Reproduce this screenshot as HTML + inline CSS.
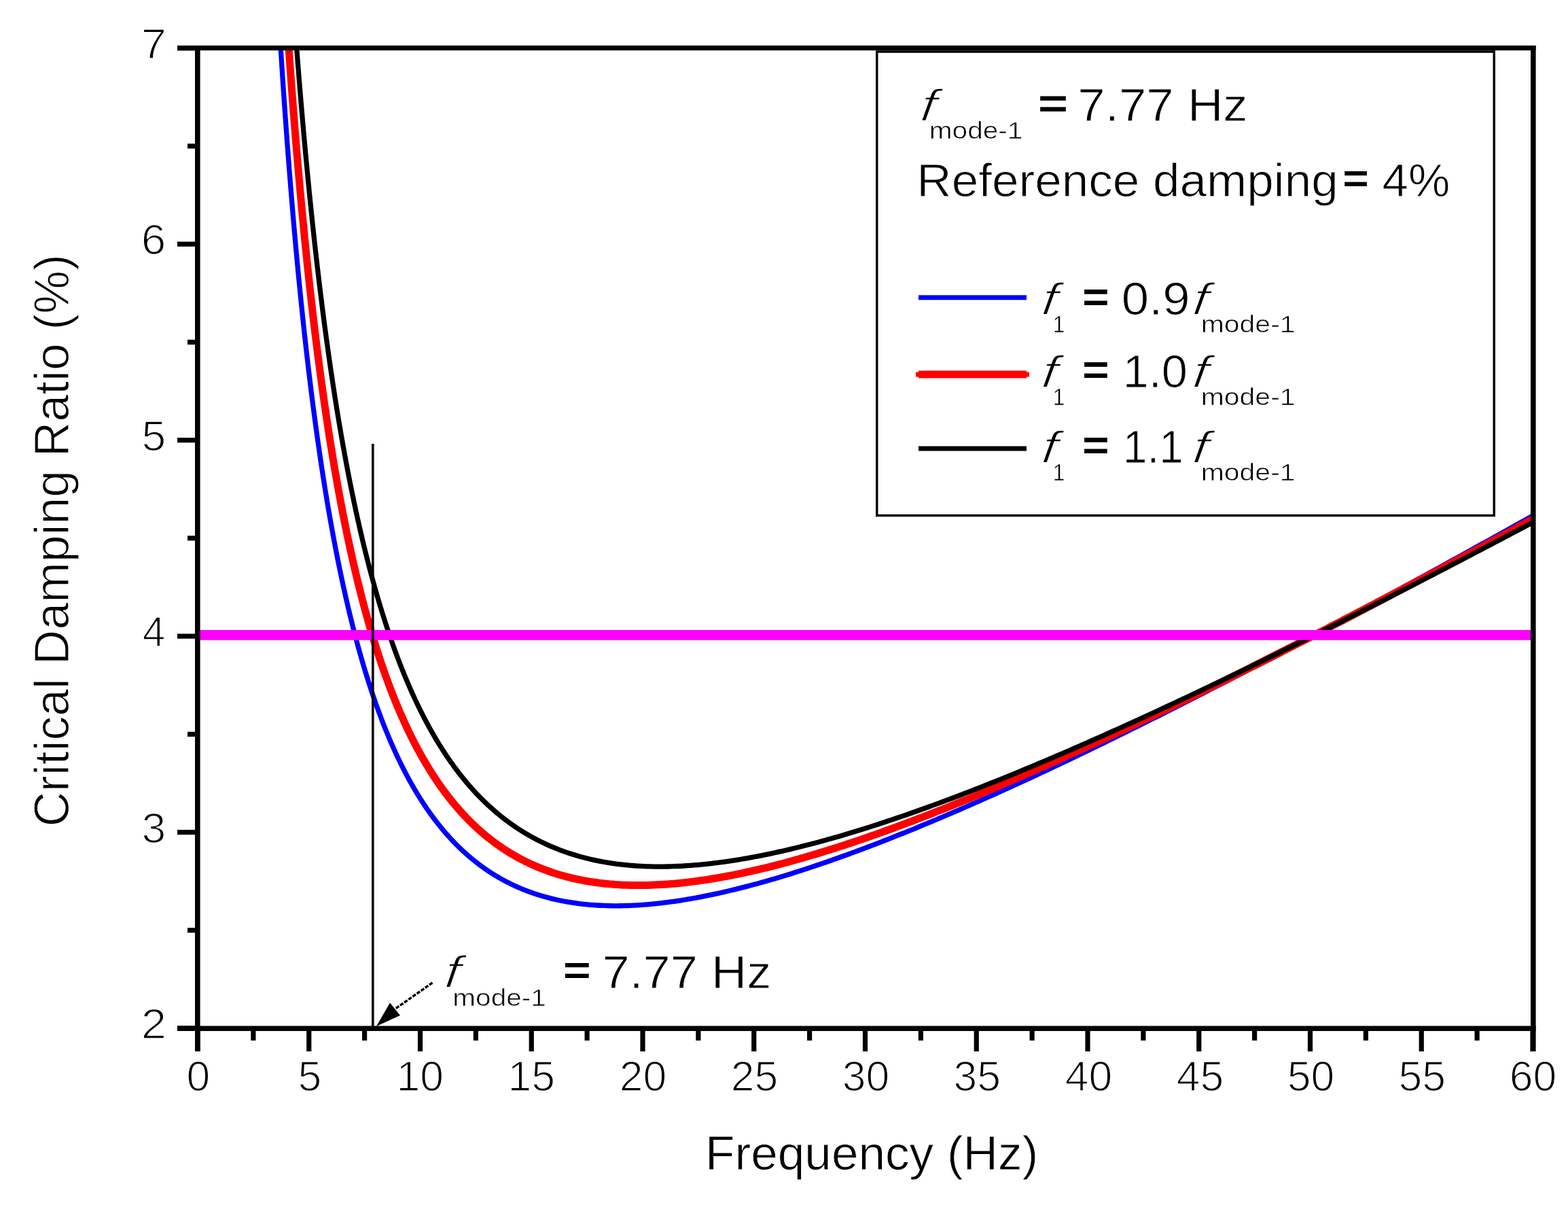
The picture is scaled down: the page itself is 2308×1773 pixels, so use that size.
<!DOCTYPE html>
<html><head><meta charset="utf-8"><title>Critical Damping Ratio</title>
<style>html,body{margin:0;padding:0;background:#fff;}body{width:2308px;height:1773px;overflow:hidden;}svg{display:block;}text{font-family:"Liberation Sans",Arial,sans-serif;}</style>
</head><body>
<svg width="2308" height="1773" viewBox="0 0 2308 1773" font-family="Liberation Sans, Arial, sans-serif">
<rect width="2308" height="1773" fill="#fff"/>
<defs><clipPath id="pc"><rect x="291" y="70.75" width="1966" height="1442.25"/></clipPath></defs>
<g clip-path="url(#pc)" fill="none" stroke-linejoin="round">
<path d="M413.16,70.75 L414.09,85.28 L415.02,99.58 L415.96,113.65 L416.89,127.50 L417.82,141.13 L418.75,154.55 L419.69,167.76 L420.62,180.77 L421.55,193.58 L422.48,206.19 L423.42,218.62 L424.35,230.86 L425.28,242.91 L426.21,254.79 L427.15,266.50 L428.08,278.03 L429.01,289.40 L429.94,300.60 L430.88,311.64 L431.81,322.52 L432.74,333.25 L433.67,343.83 L434.61,354.27 L435.54,364.55 L436.47,374.70 L437.40,384.70 L438.34,394.57 L439.27,404.30 L440.20,413.91 L441.14,423.38 L442.07,432.73 L443.00,441.95 L443.93,451.05 L444.87,460.03 L445.80,468.89 L446.73,477.64 L447.66,486.28 L448.60,494.80 L449.53,503.22 L450.46,511.52 L451.39,519.73 L452.33,527.82 L453.26,535.82 L454.19,543.72 L455.12,551.52 L456.06,559.22 L456.99,566.83 L457.92,574.35 L458.85,581.77 L459.79,589.10 L460.72,596.35 L461.65,603.51 L462.58,610.58 L463.52,617.57 L464.45,624.47 L465.38,631.30 L466.31,638.04 L467.25,644.71 L468.18,651.29 L469.11,657.81 L470.04,664.24 L470.98,670.60 L471.91,676.89 L472.84,683.11 L473.77,689.26 L474.71,695.34 L475.64,701.35 L476.57,707.29 L477.51,713.17 L478.44,718.98 L479.37,724.73 L480.30,730.41 L481.24,736.03 L482.17,741.59 L483.10,747.09 L484.03,752.53 L484.97,757.91 L485.90,763.23 L486.83,768.50 L487.76,773.71 L488.70,778.86 L489.63,783.96 L490.56,789.01 L491.49,794.00 L492.43,798.94 L493.36,803.83 L494.29,808.67 L495.22,813.45 L496.16,818.19 L497.09,822.88 L498.02,827.52 L498.95,832.12 L499.89,836.66 L500.82,841.16 L501.75,845.62 L502.68,850.03 L503.62,854.39 L504.55,858.72 L505.48,862.99 L506.41,867.23 L507.35,871.42 L508.28,875.58 L509.21,879.69 L510.14,883.76 L511.08,887.79 L512.01,891.78 L512.94,895.73 L513.87,899.65 L514.81,903.53 L515.74,907.36 L516.67,911.17 L517.61,914.93 L518.54,918.66 L519.47,922.36 L520.40,926.01 L521.34,929.64 L522.27,933.23 L523.20,936.78 L524.13,940.30 L525.07,943.79 L526.00,947.25 L526.93,950.67 L527.86,954.07 L528.80,957.43 L529.73,960.76 L530.66,964.06 L531.59,967.32 L532.53,970.56 L533.46,973.77 L534.39,976.95 L535.32,980.10 L536.26,983.22 L537.19,986.31 L538.12,989.38 L539.05,992.42 L539.99,995.43 L540.92,998.41 L541.85,1001.37 L542.78,1004.29 L543.72,1007.20 L544.65,1010.08 L545.58,1012.93 L546.51,1015.75 L547.45,1018.56 L548.38,1021.33 L549.31,1024.08 L550.24,1026.81 L551.18,1029.52 L552.11,1032.20 L553.04,1034.85 L553.97,1037.49 L554.91,1040.10 L555.84,1042.69 L556.77,1045.25 L557.71,1047.80 L558.64,1050.32 L559.57,1052.82 L560.50,1055.29 L561.44,1057.75 L562.37,1060.19 L563.30,1062.60 L564.23,1065.00 L565.17,1067.37 L566.10,1069.72 L567.03,1072.06 L567.96,1074.37 L568.90,1076.66 L569.83,1078.94 L570.76,1081.20 L571.69,1083.43 L572.63,1085.65 L573.56,1087.85 L574.49,1090.03 L575.42,1092.19 L576.36,1094.34 L577.29,1096.46 L578.22,1098.57 L579.15,1100.66 L580.09,1102.73 L581.02,1104.79 L581.95,1106.83 L582.88,1108.85 L583.82,1110.86 L584.75,1112.85 L585.68,1114.82 L586.61,1116.78 L587.55,1118.72 L588.48,1120.64 L589.41,1122.55 L590.34,1124.44 L591.28,1126.32 L592.21,1128.18 L593.14,1130.03 L594.08,1131.86 L595.01,1133.68 L595.94,1135.48 L596.87,1137.27 L597.81,1139.04 L598.74,1140.80 L599.67,1142.54 L600.60,1144.27 L601.54,1145.99 L602.47,1147.69 L603.40,1149.38 L604.33,1151.06 L605.27,1152.72 L606.20,1154.37 L607.13,1156.00 L608.06,1157.62 L609.00,1159.23 L609.93,1160.83 L610.86,1162.41 L611.79,1163.98 L612.73,1165.54 L613.66,1167.09 L614.59,1168.62 L615.52,1170.14 L616.46,1171.65 L617.39,1173.14 L618.32,1174.63 L619.25,1176.10 L620.19,1177.56 L621.12,1179.01 L622.05,1180.45 L622.98,1181.88 L623.92,1183.29 L624.85,1184.70 L625.78,1186.09 L626.71,1187.47 L627.65,1188.84 L628.58,1190.20 L629.51,1191.55 L630.44,1192.89 L631.38,1194.22 L632.31,1195.54 L633.24,1196.84 L634.18,1198.14 L635.11,1199.43 L636.04,1200.70 L636.97,1201.97 L637.91,1203.23 L638.84,1204.47 L639.77,1205.71 L640.70,1206.94 L641.64,1208.16 L642.57,1209.36 L643.50,1210.56 L644.43,1211.75 L645.37,1212.93 L646.30,1214.10 L647.23,1215.26 L648.16,1216.41 L649.10,1217.55 L650.03,1218.69 L650.96,1219.81 L651.89,1220.93 L652.83,1222.03 L653.76,1223.13 L654.69,1224.22 L655.62,1225.30 L656.56,1226.38 L657.49,1227.44 L658.42,1228.50 L659.35,1229.54 L660.29,1230.58 L661.22,1231.61 L662.15,1232.63 L663.08,1233.65 L664.02,1234.66 L664.95,1235.65 L665.88,1236.65 L666.81,1237.63 L667.75,1238.60 L668.68,1239.57 L669.61,1240.53 L670.55,1241.48 L671.48,1242.43 L672.41,1243.36 L673.34,1244.29 L674.28,1245.22 L675.21,1246.13 L676.14,1247.04 L677.07,1247.94 L678.01,1248.83 L678.94,1249.72 L679.87,1250.60 L680.80,1251.47 L681.74,1252.33 L682.67,1253.19 L683.60,1254.04 L684.53,1254.89 L685.47,1255.72 L686.40,1256.56 L687.33,1257.38 L688.26,1258.20 L689.20,1259.01 L690.13,1259.81 L691.06,1260.61 L691.99,1261.40 L692.93,1262.19 L693.86,1262.97 L694.79,1263.74 L695.72,1264.51 L696.66,1265.27 L697.59,1266.02 L698.52,1266.77 L699.45,1267.51 L700.39,1268.24 L701.32,1268.97 L702.25,1269.70 L703.18,1270.42 L704.12,1271.13 L705.05,1271.83 L705.98,1272.53 L706.91,1273.23 L707.85,1273.92 L708.78,1274.60 L709.71,1275.28 L710.65,1275.95 L711.58,1276.61 L712.51,1277.27 L713.44,1277.93 L714.38,1278.58 L715.31,1279.22 L716.24,1279.86 L717.17,1280.50 L718.11,1281.12 L719.04,1281.75 L719.97,1282.36 L720.90,1282.98 L721.84,1283.58 L722.77,1284.19 L723.70,1284.78 L724.63,1285.37 L725.57,1285.96 L726.50,1286.54 L727.43,1287.12 L728.36,1287.69 L729.30,1288.26 L730.23,1288.82 L731.16,1289.38 L732.09,1289.93 L733.03,1290.48 L733.96,1291.02 L734.89,1291.56 L735.82,1292.09 L736.76,1292.62 L737.69,1293.14 L738.62,1293.66 L739.55,1294.18 L740.49,1294.69 L741.42,1295.20 L742.35,1295.70 L743.28,1296.19 L744.22,1296.69 L745.15,1297.17 L746.08,1297.66 L747.02,1298.14 L747.95,1298.61 L748.88,1299.08 L749.81,1299.55 L750.75,1300.01 L751.68,1300.47 L752.61,1300.92 L753.54,1301.37 L754.48,1301.82 L755.41,1302.26 L756.34,1302.69 L757.27,1303.13 L758.21,1303.55 L759.14,1303.98 L760.07,1304.40 L761.00,1304.82 L761.94,1305.23 L762.87,1305.64 L763.80,1306.04 L764.73,1306.44 L765.67,1306.84 L766.60,1307.24 L767.53,1307.62 L768.46,1308.01 L769.40,1308.39 L770.33,1308.77 L771.26,1309.15 L772.19,1309.52 L773.13,1309.88 L774.06,1310.25 L774.99,1310.61 L775.92,1310.96 L776.86,1311.32 L777.79,1311.66 L778.72,1312.01 L779.65,1312.35 L780.59,1312.69 L781.52,1313.02 L782.45,1313.36 L783.38,1313.68 L784.32,1314.01 L785.25,1314.33 L790.18,1315.97 L795.11,1317.52 L800.04,1318.98 L804.97,1320.35 L809.89,1321.64 L814.82,1322.84 L819.75,1323.97 L824.68,1325.02 L829.61,1325.99 L834.54,1326.89 L839.47,1327.72 L844.40,1328.48 L849.33,1329.17 L854.26,1329.80 L859.18,1330.36 L864.11,1330.86 L869.04,1331.30 L873.97,1331.68 L878.90,1332.00 L883.83,1332.26 L888.76,1332.47 L893.69,1332.63 L898.62,1332.73 L903.54,1332.79 L908.47,1332.79 L913.40,1332.75 L918.33,1332.65 L923.26,1332.52 L928.19,1332.33 L933.12,1332.10 L938.05,1331.83 L942.98,1331.52 L947.90,1331.17 L952.83,1330.77 L957.76,1330.34 L962.69,1329.87 L967.62,1329.36 L972.55,1328.81 L977.48,1328.23 L982.41,1327.61 L987.34,1326.95 L992.27,1326.27 L997.19,1325.55 L1002.12,1324.80 L1007.05,1324.01 L1011.98,1323.20 L1016.91,1322.35 L1021.84,1321.48 L1026.77,1320.57 L1031.70,1319.64 L1036.63,1318.68 L1041.55,1317.69 L1046.48,1316.67 L1051.41,1315.63 L1056.34,1314.56 L1061.27,1313.47 L1066.20,1312.35 L1071.13,1311.21 L1076.06,1310.04 L1080.99,1308.85 L1085.91,1307.64 L1090.84,1306.40 L1095.77,1305.14 L1100.70,1303.86 L1105.63,1302.56 L1110.56,1301.24 L1115.49,1299.90 L1120.42,1298.53 L1125.35,1297.15 L1130.28,1295.74 L1135.20,1294.32 L1140.13,1292.88 L1145.06,1291.42 L1149.99,1289.94 L1154.92,1288.45 L1159.85,1286.93 L1164.78,1285.40 L1169.71,1283.85 L1174.64,1282.29 L1179.56,1280.71 L1184.49,1279.11 L1189.42,1277.49 L1194.35,1275.86 L1199.28,1274.22 L1204.21,1272.56 L1209.14,1270.88 L1214.07,1269.19 L1219.00,1267.49 L1223.92,1265.77 L1228.85,1264.04 L1233.78,1262.29 L1238.71,1260.53 L1243.64,1258.76 L1248.57,1256.97 L1253.50,1255.17 L1258.43,1253.36 L1263.36,1251.54 L1268.29,1249.70 L1273.21,1247.85 L1278.14,1245.99 L1283.07,1244.12 L1288.00,1242.23 L1292.93,1240.34 L1297.86,1238.43 L1302.79,1236.51 L1307.72,1234.58 L1312.65,1232.64 L1317.57,1230.69 L1322.50,1228.73 L1327.43,1226.76 L1332.36,1224.77 L1337.29,1222.78 L1342.22,1220.78 L1347.15,1218.77 L1352.08,1216.75 L1357.01,1214.72 L1361.93,1212.68 L1366.86,1210.63 L1371.79,1208.57 L1376.72,1206.50 L1381.65,1204.42 L1386.58,1202.34 L1391.51,1200.24 L1396.44,1198.14 L1401.37,1196.03 L1406.30,1193.91 L1411.22,1191.78 L1416.15,1189.65 L1421.08,1187.51 L1426.01,1185.35 L1430.94,1183.19 L1435.87,1181.03 L1440.80,1178.85 L1445.73,1176.67 L1450.66,1174.48 L1455.58,1172.29 L1460.51,1170.08 L1465.44,1167.87 L1470.37,1165.65 L1475.30,1163.43 L1480.23,1161.20 L1485.16,1158.96 L1490.09,1156.72 L1495.02,1154.46 L1499.94,1152.21 L1504.87,1149.94 L1509.80,1147.67 L1514.73,1145.39 L1519.66,1143.11 L1524.59,1140.82 L1529.52,1138.53 L1534.45,1136.23 L1539.38,1133.92 L1544.31,1131.61 L1549.23,1129.29 L1554.16,1126.96 L1559.09,1124.63 L1564.02,1122.30 L1568.95,1119.95 L1573.88,1117.61 L1578.81,1115.26 L1583.74,1112.90 L1588.67,1110.54 L1593.59,1108.17 L1598.52,1105.80 L1603.45,1103.42 L1608.38,1101.03 L1613.31,1098.65 L1618.24,1096.25 L1623.17,1093.86 L1628.10,1091.45 L1633.03,1089.05 L1637.95,1086.63 L1642.88,1084.22 L1647.81,1081.80 L1652.74,1079.37 L1657.67,1076.94 L1662.60,1074.51 L1667.53,1072.07 L1672.46,1069.62 L1677.39,1067.18 L1682.32,1064.72 L1687.24,1062.27 L1692.17,1059.81 L1697.10,1057.34 L1702.03,1054.88 L1706.96,1052.40 L1711.89,1049.93 L1716.82,1047.45 L1721.75,1044.96 L1726.68,1042.47 L1731.60,1039.98 L1736.53,1037.49 L1741.46,1034.99 L1746.39,1032.48 L1751.32,1029.98 L1756.25,1027.47 L1761.18,1024.95 L1766.11,1022.43 L1771.04,1019.91 L1775.96,1017.39 L1780.89,1014.86 L1785.82,1012.33 L1790.75,1009.79 L1795.68,1007.25 L1800.61,1004.71 L1805.54,1002.17 L1810.47,999.62 L1815.40,997.07 L1820.33,994.51 L1825.25,991.95 L1830.18,989.39 L1835.11,986.83 L1840.04,984.26 L1844.97,981.69 L1849.90,979.12 L1854.83,976.54 L1859.76,973.96 L1864.69,971.38 L1869.61,968.79 L1874.54,966.21 L1879.47,963.62 L1884.40,961.02 L1889.33,958.43 L1894.26,955.83 L1899.19,953.22 L1904.12,950.62 L1909.05,948.01 L1913.97,945.40 L1918.90,942.79 L1923.83,940.17 L1928.76,937.56 L1933.69,934.93 L1938.62,932.31 L1943.55,929.69 L1948.48,927.06 L1953.41,924.43 L1958.34,921.79 L1963.26,919.16 L1968.19,916.52 L1973.12,913.88 L1978.05,911.24 L1982.98,908.59 L1987.91,905.94 L1992.84,903.30 L1997.77,900.64 L2002.70,897.99 L2007.62,895.33 L2012.55,892.67 L2017.48,890.01 L2022.41,887.35 L2027.34,884.68 L2032.27,882.02 L2037.20,879.35 L2042.13,876.67 L2047.06,874.00 L2051.98,871.32 L2056.91,868.65 L2061.84,865.97 L2066.77,863.28 L2071.70,860.60 L2076.63,857.91 L2081.56,855.22 L2086.49,852.53 L2091.42,849.84 L2096.35,847.15 L2101.27,844.45 L2106.20,841.75 L2111.13,839.05 L2116.06,836.35 L2120.99,833.65 L2125.92,830.94 L2130.85,828.24 L2135.78,825.53 L2140.71,822.82 L2145.63,820.10 L2150.56,817.39 L2155.49,814.67 L2160.42,811.95 L2165.35,809.24 L2170.28,806.51 L2175.21,803.79 L2180.14,801.07 L2185.07,798.34 L2189.99,795.61 L2194.92,792.88 L2199.85,790.15 L2204.78,787.42 L2209.71,784.68 L2214.64,781.95 L2219.57,779.21 L2224.50,776.47 L2229.43,773.73 L2234.36,770.98 L2239.28,768.24 L2244.21,765.50 L2249.14,762.75 L2254.07,760.00 L2259.00,757.25" stroke="#0000ff" stroke-width="7.3"/>
<path d="M425.04,70.75 L425.94,83.47 L426.84,96.01 L427.75,108.37 L428.65,120.56 L429.55,132.57 L430.46,144.43 L431.36,156.12 L432.26,167.64 L433.16,179.02 L434.07,190.24 L434.97,201.30 L435.87,212.22 L436.77,223.00 L437.68,233.63 L438.58,244.13 L439.48,254.48 L440.39,264.70 L441.29,274.79 L442.19,284.75 L443.09,294.59 L444.00,304.29 L444.90,313.88 L445.80,323.34 L446.71,332.69 L447.61,341.92 L448.51,351.03 L449.41,360.04 L450.32,368.93 L451.22,377.71 L452.12,386.39 L453.03,394.96 L453.93,403.43 L454.83,411.80 L455.73,420.07 L456.64,428.24 L457.54,436.32 L458.44,444.30 L459.34,452.18 L460.25,459.98 L461.15,467.68 L462.05,475.30 L462.96,482.83 L463.86,490.27 L464.76,497.63 L465.66,504.91 L466.57,512.10 L467.47,519.21 L468.37,526.25 L469.28,533.20 L470.18,540.08 L471.08,546.88 L471.98,553.61 L472.89,560.27 L473.79,566.85 L474.69,573.36 L475.59,579.80 L476.50,586.17 L477.40,592.48 L478.30,598.71 L479.21,604.89 L480.11,610.99 L481.01,617.03 L481.91,623.01 L482.82,628.92 L483.72,634.78 L484.62,640.57 L485.53,646.30 L486.43,651.98 L487.33,657.59 L488.23,663.15 L489.14,668.65 L490.04,674.10 L490.94,679.49 L491.84,684.83 L492.75,690.11 L493.65,695.34 L494.55,700.52 L495.46,705.65 L496.36,710.73 L497.26,715.75 L498.16,720.73 L499.07,725.66 L499.97,730.54 L500.87,735.38 L501.78,740.16 L502.68,744.90 L503.58,749.60 L504.48,754.25 L505.39,758.85 L506.29,763.41 L507.19,767.93 L508.09,772.41 L509.00,776.84 L509.90,781.23 L510.80,785.58 L511.71,789.89 L512.61,794.16 L513.51,798.39 L514.41,802.59 L515.32,806.74 L516.22,810.85 L517.12,814.93 L518.03,818.97 L518.93,822.97 L519.83,826.93 L520.73,830.86 L521.64,834.76 L522.54,838.62 L523.44,842.44 L524.35,846.23 L525.25,849.99 L526.15,853.71 L527.05,857.40 L527.96,861.06 L528.86,864.68 L529.76,868.28 L530.66,871.84 L531.57,875.37 L532.47,878.87 L533.37,882.33 L534.28,885.77 L535.18,889.18 L536.08,892.56 L536.98,895.91 L537.89,899.23 L538.79,902.52 L539.69,905.79 L540.60,909.02 L541.50,912.23 L542.40,915.41 L543.30,918.56 L544.21,921.69 L545.11,924.79 L546.01,927.87 L546.91,930.92 L547.82,933.94 L548.72,936.94 L549.62,939.91 L550.53,942.86 L551.43,945.78 L552.33,948.68 L553.23,951.56 L554.14,954.41 L555.04,957.23 L555.94,960.04 L556.85,962.82 L557.75,965.58 L558.65,968.32 L559.55,971.03 L560.46,973.72 L561.36,976.39 L562.26,979.04 L563.16,981.66 L564.07,984.27 L564.97,986.85 L565.87,989.42 L566.78,991.96 L567.68,994.48 L568.58,996.99 L569.48,999.47 L570.39,1001.93 L571.29,1004.37 L572.19,1006.80 L573.10,1009.20 L574.00,1011.59 L574.90,1013.95 L575.80,1016.30 L576.71,1018.63 L577.61,1020.94 L578.51,1023.23 L579.41,1025.51 L580.32,1027.76 L581.22,1030.00 L582.12,1032.22 L583.03,1034.43 L583.93,1036.62 L584.83,1038.79 L585.73,1040.94 L586.64,1043.08 L587.54,1045.20 L588.44,1047.30 L589.35,1049.39 L590.25,1051.46 L591.15,1053.51 L592.05,1055.55 L592.96,1057.58 L593.86,1059.59 L594.76,1061.58 L595.67,1063.56 L596.57,1065.52 L597.47,1067.47 L598.37,1069.40 L599.28,1071.32 L600.18,1073.22 L601.08,1075.11 L601.98,1076.99 L602.89,1078.85 L603.79,1080.70 L604.69,1082.53 L605.60,1084.35 L606.50,1086.15 L607.40,1087.95 L608.30,1089.72 L609.21,1091.49 L610.11,1093.24 L611.01,1094.98 L611.92,1096.70 L612.82,1098.42 L613.72,1100.12 L614.62,1101.81 L615.53,1103.48 L616.43,1105.14 L617.33,1106.79 L618.23,1108.43 L619.14,1110.06 L620.04,1111.67 L620.94,1113.27 L621.85,1114.86 L622.75,1116.44 L623.65,1118.00 L624.55,1119.56 L625.46,1121.10 L626.36,1122.63 L627.26,1124.16 L628.17,1125.66 L629.07,1127.16 L629.97,1128.65 L630.87,1130.13 L631.78,1131.59 L632.68,1133.05 L633.58,1134.49 L634.48,1135.93 L635.39,1137.35 L636.29,1138.76 L637.19,1140.16 L638.10,1141.56 L639.00,1142.94 L639.90,1144.31 L640.80,1145.67 L641.71,1147.02 L642.61,1148.37 L643.51,1149.70 L644.42,1151.02 L645.32,1152.33 L646.22,1153.64 L647.12,1154.93 L648.03,1156.21 L648.93,1157.49 L649.83,1158.76 L650.74,1160.01 L651.64,1161.26 L652.54,1162.50 L653.44,1163.73 L654.35,1164.95 L655.25,1166.16 L656.15,1167.36 L657.05,1168.56 L657.96,1169.74 L658.86,1170.92 L659.76,1172.09 L660.67,1173.25 L661.57,1174.40 L662.47,1175.54 L663.37,1176.68 L664.28,1177.81 L665.18,1178.92 L666.08,1180.03 L666.99,1181.14 L667.89,1182.23 L668.79,1183.32 L669.69,1184.40 L670.60,1185.47 L671.50,1186.53 L672.40,1187.59 L673.30,1188.63 L674.21,1189.67 L675.11,1190.71 L676.01,1191.73 L676.92,1192.75 L677.82,1193.76 L678.72,1194.76 L679.62,1195.76 L680.53,1196.75 L681.43,1197.73 L682.33,1198.70 L683.24,1199.67 L684.14,1200.63 L685.04,1201.58 L685.94,1202.53 L686.85,1203.47 L687.75,1204.40 L688.65,1205.33 L689.55,1206.25 L690.46,1207.16 L691.36,1208.07 L692.26,1208.96 L693.17,1209.86 L694.07,1210.74 L694.97,1211.62 L695.87,1212.50 L696.78,1213.36 L697.68,1214.22 L698.58,1215.08 L699.49,1215.92 L700.39,1216.77 L701.29,1217.60 L702.19,1218.43 L703.10,1219.25 L704.00,1220.07 L704.90,1220.88 L705.80,1221.69 L706.71,1222.49 L707.61,1223.28 L708.51,1224.07 L709.42,1224.85 L710.32,1225.63 L711.22,1226.40 L712.12,1227.16 L713.03,1227.92 L713.93,1228.67 L714.83,1229.42 L715.74,1230.16 L716.64,1230.90 L717.54,1231.63 L718.44,1232.36 L719.35,1233.08 L720.25,1233.79 L721.15,1234.50 L722.06,1235.20 L722.96,1235.90 L723.86,1236.60 L724.76,1237.28 L725.67,1237.97 L726.57,1238.65 L727.47,1239.32 L728.37,1239.99 L729.28,1240.65 L730.18,1241.31 L731.08,1241.96 L731.99,1242.61 L732.89,1243.25 L733.79,1243.89 L734.69,1244.52 L735.60,1245.15 L736.50,1245.77 L737.40,1246.39 L738.31,1247.01 L739.21,1247.62 L740.11,1248.22 L741.01,1248.82 L741.92,1249.41 L742.82,1250.01 L743.72,1250.59 L744.62,1251.17 L745.53,1251.75 L746.43,1252.32 L747.33,1252.89 L748.24,1253.45 L749.14,1254.01 L750.04,1254.57 L750.94,1255.12 L751.85,1255.66 L752.75,1256.21 L753.65,1256.74 L754.56,1257.28 L755.46,1257.81 L756.36,1258.33 L757.26,1258.85 L758.17,1259.37 L759.07,1259.88 L759.97,1260.39 L760.87,1260.89 L761.78,1261.39 L762.68,1261.89 L763.58,1262.38 L764.49,1262.87 L765.39,1263.35 L766.29,1263.83 L767.19,1264.31 L768.10,1264.78 L769.00,1265.25 L769.90,1265.71 L770.81,1266.17 L771.71,1266.63 L772.61,1267.08 L773.51,1267.53 L774.42,1267.97 L775.32,1268.42 L776.22,1268.85 L777.12,1269.29 L778.03,1269.72 L778.93,1270.15 L779.83,1270.57 L780.74,1270.99 L781.64,1271.40 L782.54,1271.82 L783.44,1272.23 L784.35,1272.63 L785.25,1273.03 L790.18,1275.17 L795.11,1277.20 L800.04,1279.13 L804.97,1280.97 L809.89,1282.71 L814.82,1284.37 L819.75,1285.94 L824.68,1287.42 L829.61,1288.82 L834.54,1290.14 L839.47,1291.38 L844.40,1292.55 L849.33,1293.64 L854.26,1294.66 L859.18,1295.61 L864.11,1296.49 L869.04,1297.31 L873.97,1298.06 L878.90,1298.74 L883.83,1299.37 L888.76,1299.93 L893.69,1300.44 L898.62,1300.89 L903.54,1301.28 L908.47,1301.62 L913.40,1301.90 L918.33,1302.14 L923.26,1302.32 L928.19,1302.45 L933.12,1302.54 L938.05,1302.57 L942.98,1302.56 L947.90,1302.51 L952.83,1302.41 L957.76,1302.27 L962.69,1302.09 L967.62,1301.86 L972.55,1301.59 L977.48,1301.29 L982.41,1300.95 L987.34,1300.56 L992.27,1300.15 L997.19,1299.69 L1002.12,1299.20 L1007.05,1298.67 L1011.98,1298.12 L1016.91,1297.52 L1021.84,1296.90 L1026.77,1296.24 L1031.70,1295.55 L1036.63,1294.83 L1041.55,1294.08 L1046.48,1293.30 L1051.41,1292.49 L1056.34,1291.66 L1061.27,1290.79 L1066.20,1289.90 L1071.13,1288.98 L1076.06,1288.04 L1080.99,1287.07 L1085.91,1286.07 L1090.84,1285.05 L1095.77,1284.00 L1100.70,1282.93 L1105.63,1281.84 L1110.56,1280.73 L1115.49,1279.59 L1120.42,1278.43 L1125.35,1277.24 L1130.28,1276.04 L1135.20,1274.81 L1140.13,1273.57 L1145.06,1272.30 L1149.99,1271.01 L1154.92,1269.71 L1159.85,1268.38 L1164.78,1267.04 L1169.71,1265.67 L1174.64,1264.29 L1179.56,1262.89 L1184.49,1261.48 L1189.42,1260.04 L1194.35,1258.59 L1199.28,1257.12 L1204.21,1255.63 L1209.14,1254.13 L1214.07,1252.61 L1219.00,1251.08 L1223.92,1249.53 L1228.85,1247.96 L1233.78,1246.38 L1238.71,1244.79 L1243.64,1243.18 L1248.57,1241.55 L1253.50,1239.92 L1258.43,1238.26 L1263.36,1236.60 L1268.29,1234.92 L1273.21,1233.23 L1278.14,1231.52 L1283.07,1229.80 L1288.00,1228.07 L1292.93,1226.32 L1297.86,1224.57 L1302.79,1222.80 L1307.72,1221.02 L1312.65,1219.22 L1317.57,1217.42 L1322.50,1215.60 L1327.43,1213.78 L1332.36,1211.94 L1337.29,1210.09 L1342.22,1208.23 L1347.15,1206.36 L1352.08,1204.47 L1357.01,1202.58 L1361.93,1200.68 L1366.86,1198.77 L1371.79,1196.84 L1376.72,1194.91 L1381.65,1192.97 L1386.58,1191.02 L1391.51,1189.06 L1396.44,1187.09 L1401.37,1185.11 L1406.30,1183.12 L1411.22,1181.12 L1416.15,1179.11 L1421.08,1177.10 L1426.01,1175.07 L1430.94,1173.04 L1435.87,1171.00 L1440.80,1168.95 L1445.73,1166.89 L1450.66,1164.83 L1455.58,1162.75 L1460.51,1160.67 L1465.44,1158.58 L1470.37,1156.48 L1475.30,1154.38 L1480.23,1152.27 L1485.16,1150.15 L1490.09,1148.02 L1495.02,1145.89 L1499.94,1143.75 L1504.87,1141.60 L1509.80,1139.44 L1514.73,1137.28 L1519.66,1135.11 L1524.59,1132.94 L1529.52,1130.75 L1534.45,1128.57 L1539.38,1126.37 L1544.31,1124.17 L1549.23,1121.96 L1554.16,1119.75 L1559.09,1117.53 L1564.02,1115.30 L1568.95,1113.07 L1573.88,1110.83 L1578.81,1108.59 L1583.74,1106.34 L1588.67,1104.08 L1593.59,1101.82 L1598.52,1099.55 L1603.45,1097.28 L1608.38,1095.00 L1613.31,1092.72 L1618.24,1090.43 L1623.17,1088.13 L1628.10,1085.84 L1633.03,1083.53 L1637.95,1081.22 L1642.88,1078.91 L1647.81,1076.59 L1652.74,1074.26 L1657.67,1071.93 L1662.60,1069.60 L1667.53,1067.26 L1672.46,1064.91 L1677.39,1062.56 L1682.32,1060.21 L1687.24,1057.85 L1692.17,1055.49 L1697.10,1053.12 L1702.03,1050.75 L1706.96,1048.37 L1711.89,1045.99 L1716.82,1043.61 L1721.75,1041.22 L1726.68,1038.82 L1731.60,1036.43 L1736.53,1034.02 L1741.46,1031.62 L1746.39,1029.21 L1751.32,1026.79 L1756.25,1024.38 L1761.18,1021.95 L1766.11,1019.53 L1771.04,1017.10 L1775.96,1014.66 L1780.89,1012.23 L1785.82,1009.79 L1790.75,1007.34 L1795.68,1004.89 L1800.61,1002.44 L1805.54,999.98 L1810.47,997.53 L1815.40,995.06 L1820.33,992.60 L1825.25,990.13 L1830.18,987.65 L1835.11,985.18 L1840.04,982.70 L1844.97,980.21 L1849.90,977.72 L1854.83,975.23 L1859.76,972.74 L1864.69,970.24 L1869.61,967.75 L1874.54,965.24 L1879.47,962.74 L1884.40,960.23 L1889.33,957.71 L1894.26,955.20 L1899.19,952.68 L1904.12,950.16 L1909.05,947.64 L1913.97,945.11 L1918.90,942.58 L1923.83,940.05 L1928.76,937.51 L1933.69,934.97 L1938.62,932.43 L1943.55,929.89 L1948.48,927.34 L1953.41,924.79 L1958.34,922.24 L1963.26,919.68 L1968.19,917.12 L1973.12,914.56 L1978.05,912.00 L1982.98,909.44 L1987.91,906.87 L1992.84,904.30 L1997.77,901.72 L2002.70,899.15 L2007.62,896.57 L2012.55,893.99 L2017.48,891.41 L2022.41,888.82 L2027.34,886.23 L2032.27,883.64 L2037.20,881.05 L2042.13,878.46 L2047.06,875.86 L2051.98,873.26 L2056.91,870.66 L2061.84,868.05 L2066.77,865.45 L2071.70,862.84 L2076.63,860.23 L2081.56,857.62 L2086.49,855.00 L2091.42,852.38 L2096.35,849.76 L2101.27,847.14 L2106.20,844.52 L2111.13,841.89 L2116.06,839.27 L2120.99,836.64 L2125.92,834.00 L2130.85,831.37 L2135.78,828.74 L2140.71,826.10 L2145.63,823.46 L2150.56,820.82 L2155.49,818.17 L2160.42,815.53 L2165.35,812.88 L2170.28,810.23 L2175.21,807.58 L2180.14,804.93 L2185.07,802.27 L2189.99,799.62 L2194.92,796.96 L2199.85,794.30 L2204.78,791.64 L2209.71,788.97 L2214.64,786.31 L2219.57,783.64 L2224.50,780.97 L2229.43,778.30 L2234.36,775.63 L2239.28,772.95 L2244.21,770.28 L2249.14,767.60 L2254.07,764.92 L2259.00,762.24" stroke="#ff0000" stroke-width="11"/>
<path d="M436.67,70.75 L437.54,81.99 L438.41,93.09 L439.29,104.05 L440.16,114.87 L441.03,125.56 L441.91,136.11 L442.78,146.54 L443.66,156.83 L444.53,167.00 L445.40,177.05 L446.28,186.98 L447.15,196.78 L448.02,206.47 L448.90,216.05 L449.77,225.51 L450.64,234.86 L451.52,244.10 L452.39,253.23 L453.27,262.26 L454.14,271.18 L455.01,280.00 L455.89,288.72 L456.76,297.34 L457.63,305.86 L458.51,314.28 L459.38,322.62 L460.25,330.85 L461.13,339.00 L462.00,347.06 L462.88,355.02 L463.75,362.90 L464.62,370.70 L465.50,378.41 L466.37,386.03 L467.24,393.58 L468.12,401.04 L468.99,408.42 L469.86,415.73 L470.74,422.95 L471.61,430.10 L472.49,437.18 L473.36,444.18 L474.23,451.11 L475.11,457.97 L475.98,464.75 L476.85,471.47 L477.73,478.11 L478.60,484.69 L479.47,491.21 L480.35,497.65 L481.22,504.03 L482.10,510.35 L482.97,516.60 L483.84,522.79 L484.72,528.92 L485.59,534.99 L486.46,541.00 L487.34,546.95 L488.21,552.84 L489.08,558.68 L489.96,564.46 L490.83,570.18 L491.71,575.84 L492.58,581.46 L493.45,587.01 L494.33,592.52 L495.20,597.97 L496.07,603.37 L496.95,608.72 L497.82,614.02 L498.69,619.27 L499.57,624.47 L500.44,629.63 L501.32,634.73 L502.19,639.79 L503.06,644.80 L503.94,649.76 L504.81,654.68 L505.68,659.56 L506.56,664.38 L507.43,669.17 L508.31,673.91 L509.18,678.61 L510.05,683.27 L510.93,687.89 L511.80,692.46 L512.67,696.99 L513.55,701.49 L514.42,705.94 L515.29,710.36 L516.17,714.73 L517.04,719.07 L517.92,723.37 L518.79,727.63 L519.66,731.85 L520.54,736.04 L521.41,740.19 L522.28,744.31 L523.16,748.39 L524.03,752.44 L524.90,756.45 L525.78,760.42 L526.65,764.37 L527.53,768.28 L528.40,772.15 L529.27,776.00 L530.15,779.81 L531.02,783.59 L531.89,787.33 L532.77,791.05 L533.64,794.74 L534.51,798.39 L535.39,802.02 L536.26,805.61 L537.14,809.18 L538.01,812.71 L538.88,816.22 L539.76,819.70 L540.63,823.15 L541.50,826.57 L542.38,829.96 L543.25,833.33 L544.12,836.67 L545.00,839.98 L545.87,843.27 L546.75,846.53 L547.62,849.76 L548.49,852.97 L549.37,856.15 L550.24,859.31 L551.11,862.44 L551.99,865.55 L552.86,868.63 L553.73,871.69 L554.61,874.72 L555.48,877.73 L556.36,880.72 L557.23,883.68 L558.10,886.62 L558.98,889.54 L559.85,892.43 L560.72,895.31 L561.60,898.16 L562.47,900.99 L563.34,903.79 L564.22,906.58 L565.09,909.34 L565.97,912.08 L566.84,914.81 L567.71,917.51 L568.59,920.19 L569.46,922.85 L570.33,925.49 L571.21,928.11 L572.08,930.71 L572.95,933.29 L573.83,935.85 L574.70,938.39 L575.58,940.91 L576.45,943.42 L577.32,945.90 L578.20,948.37 L579.07,950.82 L579.94,953.25 L580.82,955.66 L581.69,958.06 L582.56,960.43 L583.44,962.79 L584.31,965.13 L585.19,967.46 L586.06,969.77 L586.93,972.06 L587.81,974.33 L588.68,976.59 L589.55,978.83 L590.43,981.06 L591.30,983.26 L592.17,985.46 L593.05,987.63 L593.92,989.79 L594.80,991.94 L595.67,994.07 L596.54,996.18 L597.42,998.28 L598.29,1000.37 L599.16,1002.44 L600.04,1004.49 L600.91,1006.53 L601.78,1008.56 L602.66,1010.57 L603.53,1012.56 L604.41,1014.55 L605.28,1016.51 L606.15,1018.47 L607.03,1020.41 L607.90,1022.33 L608.77,1024.25 L609.65,1026.15 L610.52,1028.03 L611.39,1029.91 L612.27,1031.77 L613.14,1033.61 L614.02,1035.45 L614.89,1037.27 L615.76,1039.07 L616.64,1040.87 L617.51,1042.65 L618.38,1044.42 L619.26,1046.18 L620.13,1047.93 L621.01,1049.66 L621.88,1051.38 L622.75,1053.09 L623.63,1054.79 L624.50,1056.48 L625.37,1058.15 L626.25,1059.81 L627.12,1061.47 L627.99,1063.11 L628.87,1064.73 L629.74,1066.35 L630.62,1067.96 L631.49,1069.55 L632.36,1071.14 L633.24,1072.71 L634.11,1074.28 L634.98,1075.83 L635.86,1077.37 L636.73,1078.90 L637.60,1080.42 L638.48,1081.93 L639.35,1083.43 L640.23,1084.92 L641.10,1086.40 L641.97,1087.87 L642.85,1089.33 L643.72,1090.78 L644.59,1092.22 L645.47,1093.65 L646.34,1095.07 L647.21,1096.48 L648.09,1097.88 L648.96,1099.27 L649.84,1100.65 L650.71,1102.02 L651.58,1103.39 L652.46,1104.74 L653.33,1106.09 L654.20,1107.42 L655.08,1108.75 L655.95,1110.07 L656.82,1111.38 L657.70,1112.68 L658.57,1113.97 L659.45,1115.25 L660.32,1116.53 L661.19,1117.79 L662.07,1119.05 L662.94,1120.30 L663.81,1121.54 L664.69,1122.77 L665.56,1123.99 L666.43,1125.21 L667.31,1126.42 L668.18,1127.62 L669.06,1128.81 L669.93,1129.99 L670.80,1131.17 L671.68,1132.33 L672.55,1133.49 L673.42,1134.65 L674.30,1135.79 L675.17,1136.93 L676.04,1138.06 L676.92,1139.18 L677.79,1140.29 L678.67,1141.40 L679.54,1142.50 L680.41,1143.59 L681.29,1144.67 L682.16,1145.75 L683.03,1146.82 L683.91,1147.88 L684.78,1148.94 L685.65,1149.99 L686.53,1151.03 L687.40,1152.06 L688.28,1153.09 L689.15,1154.11 L690.02,1155.13 L690.90,1156.13 L691.77,1157.13 L692.64,1158.13 L693.52,1159.12 L694.39,1160.10 L695.26,1161.07 L696.14,1162.04 L697.01,1163.00 L697.89,1163.95 L698.76,1164.90 L699.63,1165.84 L700.51,1166.78 L701.38,1167.71 L702.25,1168.63 L703.13,1169.55 L704.00,1170.46 L704.87,1171.37 L705.75,1172.26 L706.62,1173.16 L707.50,1174.04 L708.37,1174.92 L709.24,1175.80 L710.12,1176.67 L710.99,1177.53 L711.86,1178.39 L712.74,1179.24 L713.61,1180.08 L714.48,1180.92 L715.36,1181.76 L716.23,1182.59 L717.11,1183.41 L717.98,1184.23 L718.85,1185.04 L719.73,1185.85 L720.60,1186.65 L721.47,1187.44 L722.35,1188.23 L723.22,1189.02 L724.09,1189.80 L724.97,1190.57 L725.84,1191.34 L726.72,1192.11 L727.59,1192.86 L728.46,1193.62 L729.34,1194.37 L730.21,1195.11 L731.08,1195.85 L731.96,1196.58 L732.83,1197.31 L733.71,1198.03 L734.58,1198.75 L735.45,1199.46 L736.33,1200.17 L737.20,1200.87 L738.07,1201.57 L738.95,1202.27 L739.82,1202.96 L740.69,1203.64 L741.57,1204.32 L742.44,1204.99 L743.32,1205.66 L744.19,1206.33 L745.06,1206.99 L745.94,1207.65 L746.81,1208.30 L747.68,1208.95 L748.56,1209.59 L749.43,1210.23 L750.30,1210.86 L751.18,1211.49 L752.05,1212.12 L752.93,1212.74 L753.80,1213.35 L754.67,1213.96 L755.55,1214.57 L756.42,1215.18 L757.29,1215.77 L758.17,1216.37 L759.04,1216.96 L759.91,1217.55 L760.79,1218.13 L761.66,1218.71 L762.54,1219.28 L763.41,1219.85 L764.28,1220.42 L765.16,1220.98 L766.03,1221.54 L766.90,1222.09 L767.78,1222.64 L768.65,1223.19 L769.52,1223.73 L770.40,1224.27 L771.27,1224.80 L772.15,1225.33 L773.02,1225.86 L773.89,1226.38 L774.77,1226.90 L775.64,1227.41 L776.51,1227.92 L777.39,1228.43 L778.26,1228.93 L779.13,1229.43 L780.01,1229.93 L780.88,1230.42 L781.76,1230.91 L782.63,1231.40 L783.50,1231.88 L784.38,1232.36 L785.25,1232.83 L790.18,1235.44 L795.11,1237.95 L800.04,1240.34 L804.97,1242.63 L809.89,1244.82 L814.82,1246.92 L819.75,1248.92 L824.68,1250.82 L829.61,1252.64 L834.54,1254.37 L839.47,1256.01 L844.40,1257.58 L849.33,1259.06 L854.26,1260.46 L859.18,1261.79 L864.11,1263.04 L869.04,1264.22 L873.97,1265.33 L878.90,1266.38 L883.83,1267.35 L888.76,1268.26 L893.69,1269.10 L898.62,1269.89 L903.54,1270.61 L908.47,1271.27 L913.40,1271.88 L918.33,1272.43 L923.26,1272.92 L928.19,1273.37 L933.12,1273.75 L938.05,1274.09 L942.98,1274.38 L947.90,1274.61 L952.83,1274.80 L957.76,1274.95 L962.69,1275.04 L967.62,1275.10 L972.55,1275.10 L977.48,1275.07 L982.41,1274.99 L987.34,1274.88 L992.27,1274.72 L997.19,1274.52 L1002.12,1274.28 L1007.05,1274.01 L1011.98,1273.70 L1016.91,1273.35 L1021.84,1272.97 L1026.77,1272.55 L1031.70,1272.10 L1036.63,1271.62 L1041.55,1271.10 L1046.48,1270.55 L1051.41,1269.97 L1056.34,1269.36 L1061.27,1268.72 L1066.20,1268.05 L1071.13,1267.35 L1076.06,1266.62 L1080.99,1265.86 L1085.91,1265.08 L1090.84,1264.26 L1095.77,1263.43 L1100.70,1262.56 L1105.63,1261.67 L1110.56,1260.76 L1115.49,1259.82 L1120.42,1258.85 L1125.35,1257.87 L1130.28,1256.86 L1135.20,1255.82 L1140.13,1254.77 L1145.06,1253.69 L1149.99,1252.59 L1154.92,1251.47 L1159.85,1250.33 L1164.78,1249.16 L1169.71,1247.98 L1174.64,1246.78 L1179.56,1245.55 L1184.49,1244.31 L1189.42,1243.05 L1194.35,1241.77 L1199.28,1240.47 L1204.21,1239.16 L1209.14,1237.82 L1214.07,1236.47 L1219.00,1235.10 L1223.92,1233.72 L1228.85,1232.32 L1233.78,1230.90 L1238.71,1229.46 L1243.64,1228.01 L1248.57,1226.55 L1253.50,1225.06 L1258.43,1223.57 L1263.36,1222.06 L1268.29,1220.53 L1273.21,1218.99 L1278.14,1217.43 L1283.07,1215.86 L1288.00,1214.28 L1292.93,1212.68 L1297.86,1211.07 L1302.79,1209.45 L1307.72,1207.81 L1312.65,1206.16 L1317.57,1204.50 L1322.50,1202.83 L1327.43,1201.14 L1332.36,1199.44 L1337.29,1197.73 L1342.22,1196.01 L1347.15,1194.27 L1352.08,1192.53 L1357.01,1190.77 L1361.93,1189.00 L1366.86,1187.22 L1371.79,1185.43 L1376.72,1183.63 L1381.65,1181.82 L1386.58,1180.00 L1391.51,1178.16 L1396.44,1176.32 L1401.37,1174.47 L1406.30,1172.61 L1411.22,1170.74 L1416.15,1168.85 L1421.08,1166.96 L1426.01,1165.06 L1430.94,1163.15 L1435.87,1161.23 L1440.80,1159.31 L1445.73,1157.37 L1450.66,1155.42 L1455.58,1153.47 L1460.51,1151.51 L1465.44,1149.54 L1470.37,1147.56 L1475.30,1145.57 L1480.23,1143.57 L1485.16,1141.57 L1490.09,1139.56 L1495.02,1137.54 L1499.94,1135.51 L1504.87,1133.48 L1509.80,1131.43 L1514.73,1129.38 L1519.66,1127.33 L1524.59,1125.26 L1529.52,1123.19 L1534.45,1121.11 L1539.38,1119.02 L1544.31,1116.93 L1549.23,1114.83 L1554.16,1112.73 L1559.09,1110.61 L1564.02,1108.49 L1568.95,1106.37 L1573.88,1104.23 L1578.81,1102.09 L1583.74,1099.95 L1588.67,1097.80 L1593.59,1095.64 L1598.52,1093.47 L1603.45,1091.30 L1608.38,1089.13 L1613.31,1086.95 L1618.24,1084.76 L1623.17,1082.56 L1628.10,1080.37 L1633.03,1078.16 L1637.95,1075.95 L1642.88,1073.73 L1647.81,1071.51 L1652.74,1069.29 L1657.67,1067.05 L1662.60,1064.82 L1667.53,1062.57 L1672.46,1060.33 L1677.39,1058.07 L1682.32,1055.81 L1687.24,1053.55 L1692.17,1051.28 L1697.10,1049.01 L1702.03,1046.73 L1706.96,1044.45 L1711.89,1042.16 L1716.82,1039.87 L1721.75,1037.57 L1726.68,1035.27 L1731.60,1032.97 L1736.53,1030.66 L1741.46,1028.34 L1746.39,1026.02 L1751.32,1023.70 L1756.25,1021.37 L1761.18,1019.04 L1766.11,1016.70 L1771.04,1014.36 L1775.96,1012.02 L1780.89,1009.67 L1785.82,1007.31 L1790.75,1004.96 L1795.68,1002.59 L1800.61,1000.23 L1805.54,997.86 L1810.47,995.49 L1815.40,993.11 L1820.33,990.73 L1825.25,988.35 L1830.18,985.96 L1835.11,983.57 L1840.04,981.17 L1844.97,978.77 L1849.90,976.37 L1854.83,973.96 L1859.76,971.55 L1864.69,969.14 L1869.61,966.72 L1874.54,964.30 L1879.47,961.88 L1884.40,959.45 L1889.33,957.02 L1894.26,954.59 L1899.19,952.15 L1904.12,949.71 L1909.05,947.27 L1913.97,944.82 L1918.90,942.37 L1923.83,939.92 L1928.76,937.47 L1933.69,935.01 L1938.62,932.54 L1943.55,930.08 L1948.48,927.61 L1953.41,925.14 L1958.34,922.67 L1963.26,920.19 L1968.19,917.71 L1973.12,915.23 L1978.05,912.74 L1982.98,910.26 L1987.91,907.77 L1992.84,905.27 L1997.77,902.78 L2002.70,900.28 L2007.62,897.77 L2012.55,895.27 L2017.48,892.76 L2022.41,890.25 L2027.34,887.74 L2032.27,885.23 L2037.20,882.71 L2042.13,880.19 L2047.06,877.67 L2051.98,875.14 L2056.91,872.62 L2061.84,870.09 L2066.77,867.55 L2071.70,865.02 L2076.63,862.48 L2081.56,859.94 L2086.49,857.40 L2091.42,854.86 L2096.35,852.31 L2101.27,849.76 L2106.20,847.21 L2111.13,844.66 L2116.06,842.10 L2120.99,839.54 L2125.92,836.98 L2130.85,834.42 L2135.78,831.86 L2140.71,829.29 L2145.63,826.72 L2150.56,824.15 L2155.49,821.58 L2160.42,819.01 L2165.35,816.43 L2170.28,813.85 L2175.21,811.27 L2180.14,808.69 L2185.07,806.10 L2189.99,803.52 L2194.92,800.93 L2199.85,798.34 L2204.78,795.74 L2209.71,793.15 L2214.64,790.55 L2219.57,787.95 L2224.50,785.35 L2229.43,782.75 L2234.36,780.15 L2239.28,777.54 L2244.21,774.93 L2249.14,772.32 L2254.07,769.71 L2259.00,767.10" stroke="#000" stroke-width="7.3"/>
</g>
<rect x="291" y="927" width="1966" height="14.8" fill="#ff00ff"/>
<rect x="547" y="653" width="3.6" height="860" fill="#000"/>
<g fill="#000">
<rect x="287" y="67" width="7.6" height="1479.5"/>
<rect x="2253" y="67" width="7.6" height="1480"/>
<rect x="261" y="67" width="1999.6" height="7.2"/>
<rect x="261" y="1509.5" width="1999.6" height="7.5"/>
<rect x="261" y="1509.40" width="30" height="7.2"/>
<rect x="261" y="1220.95" width="30" height="7.2"/>
<rect x="261" y="932.50" width="30" height="7.2"/>
<rect x="261" y="644.05" width="30" height="7.2"/>
<rect x="261" y="355.60" width="30" height="7.2"/>
<rect x="261" y="67.15" width="30" height="7.2"/>
<rect x="276" y="1365.17" width="15" height="7.2"/>
<rect x="276" y="1076.72" width="15" height="7.2"/>
<rect x="276" y="788.27" width="15" height="7.2"/>
<rect x="276" y="499.82" width="15" height="7.2"/>
<rect x="276" y="211.38" width="15" height="7.2"/>
<rect x="287.40" y="1513" width="7.2" height="34"/>
<rect x="451.15" y="1513" width="7.2" height="34"/>
<rect x="614.90" y="1513" width="7.2" height="34"/>
<rect x="778.65" y="1513" width="7.2" height="34"/>
<rect x="942.40" y="1513" width="7.2" height="34"/>
<rect x="1106.15" y="1513" width="7.2" height="34"/>
<rect x="1269.90" y="1513" width="7.2" height="34"/>
<rect x="1433.65" y="1513" width="7.2" height="34"/>
<rect x="1597.40" y="1513" width="7.2" height="34"/>
<rect x="1761.15" y="1513" width="7.2" height="34"/>
<rect x="1924.90" y="1513" width="7.2" height="34"/>
<rect x="2088.65" y="1513" width="7.2" height="34"/>
<rect x="2252.40" y="1513" width="7.2" height="34"/>
<rect x="369.27" y="1513" width="7.2" height="18"/>
<rect x="533.02" y="1513" width="7.2" height="18"/>
<rect x="696.77" y="1513" width="7.2" height="18"/>
<rect x="860.52" y="1513" width="7.2" height="18"/>
<rect x="1024.28" y="1513" width="7.2" height="18"/>
<rect x="1188.03" y="1513" width="7.2" height="18"/>
<rect x="1351.78" y="1513" width="7.2" height="18"/>
<rect x="1515.53" y="1513" width="7.2" height="18"/>
<rect x="1679.28" y="1513" width="7.2" height="18"/>
<rect x="1843.03" y="1513" width="7.2" height="18"/>
<rect x="2006.78" y="1513" width="7.2" height="18"/>
<rect x="2170.53" y="1513" width="7.2" height="18"/>
</g>
<rect x="1290.75" y="76" width="908.5" height="682.5" fill="none" stroke="#000" stroke-width="3.5"/>
<rect x="1352" y="434.3" width="159" height="7" fill="#0000ff"/>
<rect x="1352" y="545.4" width="159" height="11" fill="#ff0000"/>
<rect x="1348" y="547.5" width="167" height="7" fill="#ff0000"/>
<rect x="1352" y="656.5" width="159" height="7" fill="#000"/>
<line x1="636.5" y1="1446" x2="578" y2="1487" stroke="#000" stroke-width="3.4" stroke-dasharray="5.5 2"/>
<polygon points="554,1510 574,1475.5 589,1494" fill="#000"/>
<g>
<text transform="translate(207.65,1528.00) scale(1.0725,1)" font-size="62.50" fill="#000" stroke="#fff" stroke-width="1.6">2</text>
<text transform="translate(208.43,1239.55) scale(1.0274,1)" font-size="62.50" fill="#000" stroke="#fff" stroke-width="1.6">3</text>
<text transform="translate(209.79,951.10) scale(0.9663,1)" font-size="62.50" fill="#000" stroke="#fff" stroke-width="1.6">4</text>
<text transform="translate(208.43,662.65) scale(1.0274,1)" font-size="62.50" fill="#000" stroke="#fff" stroke-width="1.6">5</text>
<text transform="translate(207.72,374.20) scale(1.0495,1)" font-size="62.50" fill="#000" stroke="#fff" stroke-width="1.6">6</text>
<text transform="translate(207.65,85.75) scale(1.0725,1)" font-size="62.50" fill="#000" stroke="#fff" stroke-width="1.6">7</text>
<text transform="translate(274.50,1605.00)" font-size="62.50" fill="#000" stroke="#fff" stroke-width="1.6">0</text>
<text transform="translate(438.41,1605.00)" font-size="62.50" fill="#000" stroke="#fff" stroke-width="1.6">5</text>
<text transform="translate(583.56,1605.00)" font-size="62.50" fill="#000" stroke="#fff" stroke-width="1.6">10</text>
<text transform="translate(747.47,1605.00)" font-size="62.50" fill="#000" stroke="#fff" stroke-width="1.6">15</text>
<text transform="translate(911.84,1605.00)" font-size="62.50" fill="#000" stroke="#fff" stroke-width="1.6">20</text>
<text transform="translate(1075.75,1605.00)" font-size="62.50" fill="#000" stroke="#fff" stroke-width="1.6">25</text>
<text transform="translate(1239.66,1605.00)" font-size="62.50" fill="#000" stroke="#fff" stroke-width="1.6">30</text>
<text transform="translate(1403.56,1605.00)" font-size="62.50" fill="#000" stroke="#fff" stroke-width="1.6">35</text>
<text transform="translate(1567.78,1605.00)" font-size="62.50" fill="#000" stroke="#fff" stroke-width="1.6">40</text>
<text transform="translate(1731.69,1605.00)" font-size="62.50" fill="#000" stroke="#fff" stroke-width="1.6">45</text>
<text transform="translate(1894.66,1605.00)" font-size="62.50" fill="#000" stroke="#fff" stroke-width="1.6">50</text>
<text transform="translate(2058.56,1605.00)" font-size="62.50" fill="#000" stroke="#fff" stroke-width="1.6">55</text>
<text transform="translate(2221.84,1605.00)" font-size="62.50" fill="#000" stroke="#fff" stroke-width="1.6">60</text>
<text transform="translate(1038.11,1720.80) scale(1.0163,1)" font-size="70.00" fill="#000" stroke="#fff" stroke-width="0.8">Frequency (Hz)</text>
<text transform="translate(101.4,1216.57) rotate(-90) scale(1.0000,1)" font-size="71.5" fill="#000" stroke="#fff" stroke-width="1.2">Critical Damping Ratio (%)</text>
<text transform="translate(1353.09,177.80) skewX(-6.59) scale(1.25,1)" font-size="66.50" font-style="italic" fill="#000" stroke="#fff" stroke-width="1.8">f</text>
<text transform="translate(1367.76,204.00) scale(1.1771,1)" font-size="34.50" fill="#000" stroke="#fff" stroke-width="0.6">mode-1</text>
<text transform="translate(1527.99,171.79) scale(0.3762,0.2961)" font-size="200" font-weight="bold" fill="#000">=</text>
<text transform="translate(1586.37,177.80) scale(1.0528,1)" font-size="69.00" fill="#000" stroke="#fff" stroke-width="1.0">7.77 Hz</text>
<text transform="translate(1349.31,289.40) scale(1.0304,1)" font-size="69.00" fill="#000" stroke="#fff" stroke-width="1.0">Reference damping</text>
<text transform="translate(1976.39,282.47) scale(0.3267,0.2882)" font-size="200" font-weight="bold" fill="#000">=</text>
<text transform="translate(2034.62,289.40)" font-size="69.00" fill="#000" stroke="#fff" stroke-width="1.0">4%</text>
<text transform="translate(1531.49,463.10) skewX(-6.47) scale(1.25,1)" font-size="66.50" font-style="italic" fill="#000" stroke="#fff" stroke-width="1.8">f</text>
<text transform="translate(1549.82,489.20) scale(0.8936,1)" font-size="35.50" fill="#000" stroke="#fff" stroke-width="0.6">1</text>
<text transform="translate(1593.31,457.57) scale(0.3366,0.3026)" font-size="200" font-weight="bold" fill="#000">=</text>
<text transform="translate(1650.80,463.10) scale(1.0517,1)" font-size="69.00" fill="#000" stroke="#fff" stroke-width="1.0">0.9</text>
<text transform="translate(1753.69,463.10) skewX(-6.47) scale(1.25,1)" font-size="66.50" font-style="italic" fill="#000" stroke="#fff" stroke-width="1.8">f</text>
<text transform="translate(1767.63,489.20) scale(1.1886,1)" font-size="34.50" fill="#000" stroke="#fff" stroke-width="0.6">mode-1</text>
<text transform="translate(1531.49,570.10) skewX(-6.47) scale(1.25,1)" font-size="66.50" font-style="italic" fill="#000" stroke="#fff" stroke-width="1.8">f</text>
<text transform="translate(1549.82,596.20) scale(0.8936,1)" font-size="35.50" fill="#000" stroke="#fff" stroke-width="0.6">1</text>
<text transform="translate(1593.31,564.57) scale(0.3366,0.3026)" font-size="200" font-weight="bold" fill="#000">=</text>
<text transform="translate(1652.66,570.10) scale(0.9941,1)" font-size="69.00" fill="#000" stroke="#fff" stroke-width="1.0">1.0</text>
<text transform="translate(1753.69,570.10) skewX(-6.47) scale(1.25,1)" font-size="66.50" font-style="italic" fill="#000" stroke="#fff" stroke-width="1.8">f</text>
<text transform="translate(1767.63,596.20) scale(1.1886,1)" font-size="34.50" fill="#000" stroke="#fff" stroke-width="0.6">mode-1</text>
<text transform="translate(1531.49,681.20) skewX(-6.47) scale(1.25,1)" font-size="66.50" font-style="italic" fill="#000" stroke="#fff" stroke-width="1.8">f</text>
<text transform="translate(1549.82,707.30) scale(0.8936,1)" font-size="35.50" fill="#000" stroke="#fff" stroke-width="0.6">1</text>
<text transform="translate(1593.31,675.67) scale(0.3366,0.3026)" font-size="200" font-weight="bold" fill="#000">=</text>
<text transform="translate(1653.02,681.20) scale(0.9243,1)" font-size="69.00" fill="#000" stroke="#fff" stroke-width="1.0">1.1</text>
<text transform="translate(1753.69,681.20) skewX(-6.47) scale(1.25,1)" font-size="66.50" font-style="italic" fill="#000" stroke="#fff" stroke-width="1.8">f</text>
<text transform="translate(1767.63,707.30) scale(1.1886,1)" font-size="34.50" fill="#000" stroke="#fff" stroke-width="0.6">mode-1</text>
<text transform="translate(653.09,1453.00) skewX(-5.41) scale(1.25,1)" font-size="66.50" font-style="italic" fill="#000" stroke="#fff" stroke-width="1.8">f</text>
<text transform="translate(666.36,1479.50) scale(1.1753,1)" font-size="34.50" fill="#000" stroke="#fff" stroke-width="0.6">mode-1</text>
<text transform="translate(828.92,1446.57) scale(0.3475,0.2882)" font-size="200" font-weight="bold" fill="#000">=</text>
<text transform="translate(886.39,1453.70) scale(1.0468,1)" font-size="69.00" fill="#000" stroke="#fff" stroke-width="1.0">7.77 Hz</text>
</g>
</svg>
</body></html>
